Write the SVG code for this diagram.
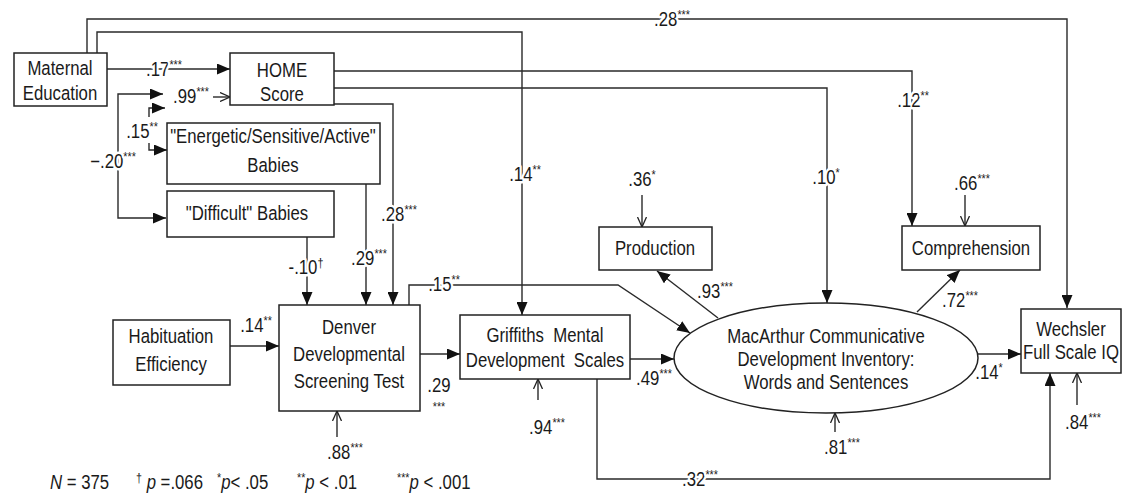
<svg xmlns="http://www.w3.org/2000/svg" width="1123" height="498" viewBox="0 0 1123 498">
<style>
.bg{fill:#fff}
.box{fill:#fff;stroke:#222;stroke-width:1.5}
.t,.l,.f{font-family:"Liberation Sans",Arial,sans-serif;font-size:19.5px;fill:#1a1a1a;transform-box:fill-box;transform:scaleX(0.86)}
.t,.l{text-anchor:middle;transform-origin:center}
.l{stroke:#fff;stroke-width:5;paint-order:stroke;stroke-linejoin:round}
.f{transform-origin:left center}
.s{font-size:12.5px}
.c{fill:none;stroke:#2a2a2a;stroke-width:1.4}
.fa{marker-end:url(#fill)}
.oa{marker-end:url(#open)}
</style>
<defs>
<marker id="fill" markerUnits="userSpaceOnUse" markerWidth="13" markerHeight="11" refX="13" refY="5.5" orient="auto"><path d="M0,0 L13,5.5 L0,11 z" fill="#111"/></marker>
<marker id="open" markerUnits="userSpaceOnUse" markerWidth="11" markerHeight="10" refX="10" refY="5" orient="auto"><path d="M0,0.5 L10,5 L0,9.5" fill="none" stroke="#222" stroke-width="1.3"/></marker>
</defs>
<rect class="bg" x="0" y="0" width="1123" height="498"/>

<g id="connectors">
<path class="c fa" d="M87,53 V19 H1067 V308"/>
<path class="c fa" d="M97,53 V32 H522 V315"/>
<path class="c fa" d="M107,69 H230"/>
<path class="c fa" d="M334,71 H912 V226"/>
<path class="c fa" d="M334,88 H827 V303"/>
<path class="c fa" d="M334,104 H393 V305"/>
<path class="c fa" d="M366,184 V305"/>
<path class="c fa" d="M307,237 V305"/>
<path class="c fa" d="M118,156 V94 H163"/>
<path class="c fa" d="M118,156 V218 H166"/>
<path class="c oa" d="M213,97 H230"/>
<path class="c fa" d="M149,117 V108 H165"/>
<path class="c fa" d="M149,143 V150 H167"/>
<path class="c fa" d="M230,346 H279"/>
<path class="c fa" d="M420,354 H460"/>
<path class="c fa" d="M630,359 H674"/>
<path class="c fa" d="M977,354 H1021"/>
<path class="c fa" d="M718,318 L657,271"/>
<path class="c fa" d="M917,312 L960,270"/>
<path class="c fa" d="M409,305 V285 H618 L690,333"/>
<path class="c fa" d="M597,379 V479 H1050 V373"/>
<path class="c oa" d="M337,437 V411"/>
<path class="c oa" d="M538,400 V379"/>
<path class="c oa" d="M835,432 V413"/>
<path class="c oa" d="M1077,405 V373"/>
<path class="c oa" d="M642,195 V227"/>
<path class="c oa" d="M965,195 V226"/>

<text class="l" x="672" y="26">.28<tspan class="s" dy="-7">***</tspan></text>
<text class="l" x="525" y="181">.14<tspan class="s" dy="-7">**</tspan></text>
<text class="l" x="164" y="76">.17<tspan class="s" dy="-7">***</tspan></text>
<text class="l" x="191" y="103">.99<tspan class="s" dy="-7">***</tspan></text>
<text class="l" x="142" y="138">.15<tspan class="s" dy="-7">**</tspan></text>
<text class="l" x="113" y="168">−.20<tspan class="s" dy="-7">***</tspan></text>
<text class="l" x="913" y="107">.12<tspan class="s" dy="-7">**</tspan></text>
<text class="l" x="826" y="184">.10<tspan class="s" dy="-7">*</tspan></text>
<text class="l" x="642" y="186">.36<tspan class="s" dy="-7">*</tspan></text>
<text class="l" x="972" y="190">.66<tspan class="s" dy="-7">***</tspan></text>
<text class="l" x="399" y="221">.28<tspan class="s" dy="-7">***</tspan></text>
<text class="l" x="369" y="265">.29<tspan class="s" dy="-7">***</tspan></text>
<text class="l" x="306" y="274">-.10<tspan class="s" dy="-7">†</tspan></text>
<text class="l" x="444" y="291">.15<tspan class="s" dy="-7">**</tspan></text>
<text class="l" x="256" y="332">.14<tspan class="s" dy="-7">**</tspan></text>
<text class="l" x="439" y="392">.29</text>
<text class="l s" x="439" y="411">***</text>
<text class="l" x="345" y="459">.88<tspan class="s" dy="-7">***</tspan></text>
<text class="l" x="547" y="434">.94<tspan class="s" dy="-7">***</tspan></text>
<text class="l" x="654" y="385">.49<tspan class="s" dy="-7">***</tspan></text>
<text class="l" x="700" y="486">.32<tspan class="s" dy="-7">***</tspan></text>
<text class="l" x="842" y="454">.81<tspan class="s" dy="-7">***</tspan></text>
<text class="l" x="989" y="379">.14<tspan class="s" dy="-7">*</tspan></text>
<text class="l" x="1083" y="429">.84<tspan class="s" dy="-7">***</tspan></text>
<text class="l" x="960" y="307">.72<tspan class="s" dy="-7">***</tspan></text>
<text class="l" x="715" y="298">.93<tspan class="s" dy="-7">***</tspan></text>
</g>

<g id="maternal-education">
<rect class="box" x="14" y="53" width="93" height="53"/>
<text class="t" x="60" y="75">Maternal</text>
<text class="t" x="60" y="100">Education</text>
</g>
<g id="home-score">
<rect class="box" x="230" y="53" width="104" height="52"/>
<text class="t" x="282" y="77">HOME</text>
<text class="t" x="282" y="101">Score</text>
</g>
<g id="energetic-babies">
<rect class="box" x="167" y="123" width="213" height="61"/>
<text class="t" x="273" y="143">"Energetic/Sensitive/Active"</text>
<text class="t" x="273" y="172">Babies</text>
</g>
<g id="difficult-babies">
<rect class="box" x="167" y="191" width="167" height="46"/>
<text class="t" x="247" y="220">"Difficult" Babies</text>
</g>
<g id="habituation">
<rect class="box" x="113" y="320" width="117" height="65"/>
<text class="t" x="171" y="343">Habituation</text>
<text class="t" x="171" y="371">Efficiency</text>
</g>
<g id="denver">
<rect class="box" x="279" y="305" width="141" height="106"/>
<text class="t" x="349" y="334">Denver</text>
<text class="t" x="349" y="361">Developmental</text>
<text class="t" x="349" y="388">Screening Test</text>
</g>
<g id="griffiths">
<rect class="box" x="460" y="315" width="170" height="64"/>
<text class="t" x="545" y="342" xml:space="preserve">Griffiths  Mental</text>
<text class="t" x="545" y="367" xml:space="preserve">Development  Scales</text>
</g>
<g id="production">
<rect class="box" x="599" y="227" width="113" height="43"/>
<text class="t" x="655" y="255">Production</text>
</g>
<g id="comprehension">
<rect class="box" x="902" y="226" width="138" height="44"/>
<text class="t" x="971" y="255">Comprehension</text>
</g>
<g id="macarthur">
<ellipse class="box" cx="826" cy="358" rx="152" ry="55"/>
<text class="t" x="826" y="343">MacArthur Communicative</text>
<text class="t" x="826" y="366">Development Inventory:</text>
<text class="t" x="826" y="389">Words and Sentences</text>
</g>
<g id="wechsler">
<rect class="box" x="1021" y="309" width="100" height="64"/>
<text class="t" x="1071" y="336">Wechsler</text>
<text class="t" x="1071" y="359">Full Scale IQ</text>
</g>

<g id="footer">
<text class="f" x="50" y="489"><tspan font-style="italic">N</tspan> = 375</text>
<text class="f" x="136" y="489"><tspan class="s" dy="-7">†</tspan><tspan dy="7" font-style="italic"> p</tspan> =.066</text>
<text class="f" x="217" y="489"><tspan class="s" dy="-7">*</tspan><tspan dy="7" font-style="italic">p</tspan>&lt; .05</text>
<text class="f" x="297" y="489"><tspan class="s" dy="-7">**</tspan><tspan dy="7" font-style="italic">p</tspan> &lt; .01</text>
<text class="f" x="397" y="489"><tspan class="s" dy="-7">***</tspan><tspan dy="7" font-style="italic">p</tspan> &lt; .001</text>
</g>
</svg>
